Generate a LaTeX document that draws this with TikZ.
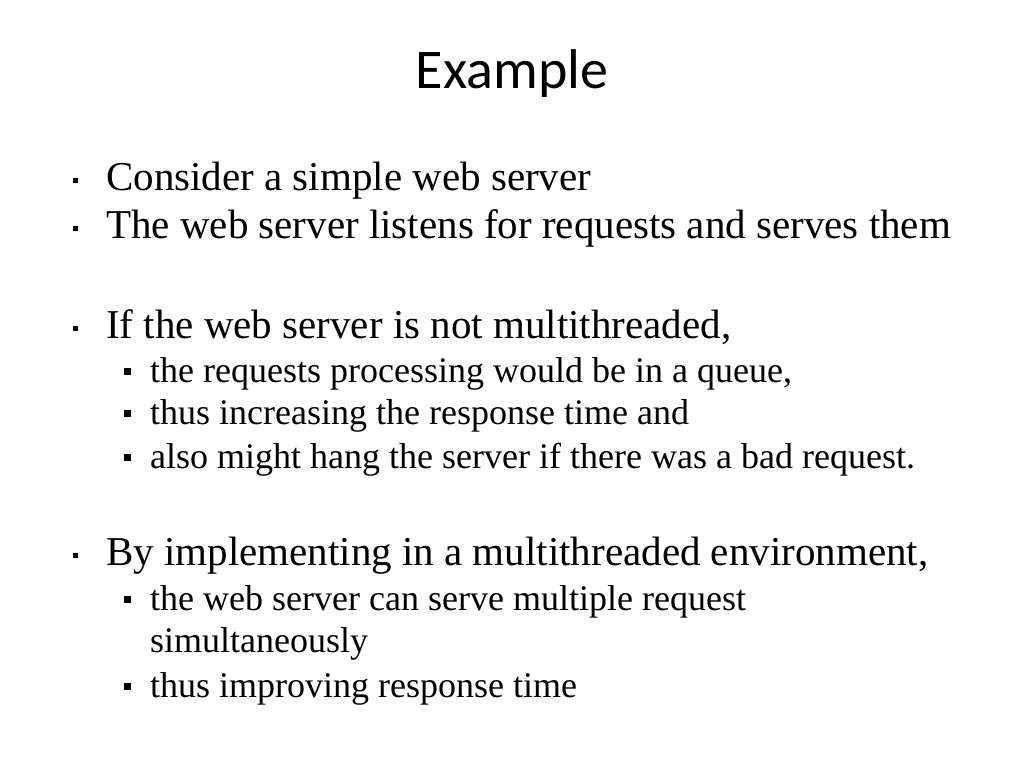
\documentclass[tikz,border=0pt]{standalone}
\usepackage{fontspec}
\setmainfont{Liberation Serif}
\newfontfamily\titlefont{Carlito}
\tikzset{
  lvlone/.style={anchor=base west, inner sep=0pt, font=\fontsize{41}{45}\selectfont},
  lvltwo/.style={anchor=base west, inner sep=0pt, font=\fontsize{36}{40}\selectfont},
  bulletsq/.style={fill=black, draw=none}
}
\begin{document}
\begin{tikzpicture}[x=1pt,y=-1pt]
  \useasboundingbox (0,0) rectangle (1024,768);
  \node[anchor=base, inner sep=0pt, font=\titlefont\fontsize{56}{60}\selectfont] (title) at (512,88) {Example};

  % first level items
  \foreach \y/\txt [count=\i] in {190/Consider a simple web server,
      238/The web server listens for requests and serves them,
      338/{If the web server is not multithreaded,},
      565/{By implementing in a multithreaded environment,}}
  {
    \node[lvlone] (one\i) at (106,\y) {\txt};
    \fill[bulletsq] (73,\y-12) rectangle (78,\y-7);
  }

  % second level items
  \foreach \y/\txt [count=\i] in {382/{the requests processing would be in a queue,},
      424/thus increasing the response time and,
      468/also might hang the server if there was a bad request.,
      610/the web server can serve multiple request,
      697/thus improving response time}
  {
    \node[lvltwo] (two\i) at (150,\y) {\txt};
    \fill[bulletsq] (124,\y-14) rectangle (131,\y-7);
  }
  \node[lvltwo] (twocont) at (150,652) {simultaneously};
\end{tikzpicture}
\end{document}
